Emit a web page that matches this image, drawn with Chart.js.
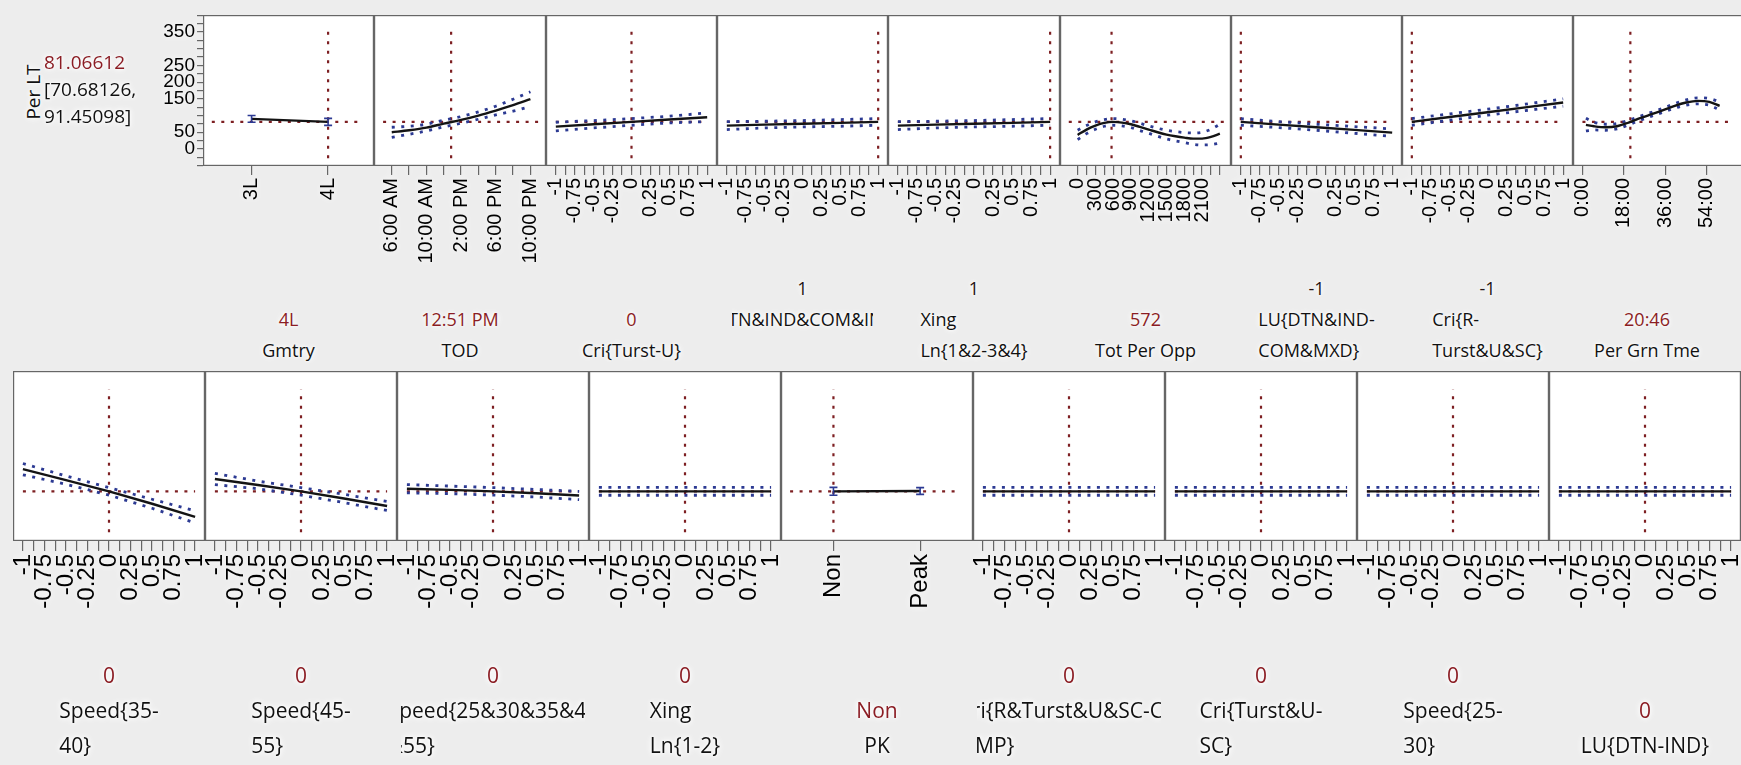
<!DOCTYPE html>
<html>
<head>
<meta charset="utf-8">
<title>Prediction Profiler - Per LT</title>
<script src="https://cdn.jsdelivr.net/npm/chart.js"></script>
<style>
  body { margin: 0; width: 1741px; height: 765px; overflow: hidden; position: relative; background: #ededed; font-family: 'Open Sans', sans-serif; }
  canvas { position: absolute; }
  .col { position: absolute; overflow: hidden; display: flex; flex-direction: column; align-items: center; justify-content: flex-end; }
  .col div, .resp div { white-space: pre; text-shadow: 0 0 3px #fff, 0 0 5px #fff, 0 0 8px #fff; }
  .names { text-align: left; color: #111; }
  .val { color: #8b1d24; }
  .dark { color: #241414; }
  .resp { position: absolute; }
</style>
</head>
<body>
<script>
// ---- response ----
const respName = 'Per LT';
const respValue = '81.06612';
const respInterval = ['[70.68126,', '91.45098]'];
const current = 81.06612;
const yLimits = [-51, 401];
const yTicks = [-50, -25, 0, 25, 50, 75, 100, 125, 150, 175, 200, 225, 250, 275, 300, 325, 350, 375, 400];
const yLabelled = [0, 50, 150, 200, 250, 350];
const crossSpan = [-28, 352];

// ---- shared coded axis (-1..1) ----
const codedX = [-1, -0.5, 0, 0.5, 1];
const codedTicks = [-1, -0.875, -0.75, -0.625, -0.5, -0.375, -0.25, -0.125, 0, 0.125, 0.25, 0.375, 0.5, 0.625, 0.75, 0.875, 1];
const codedMajor = [-1, -0.75, -0.5, -0.25, 0, 0.25, 0.5, 0.75, 1];
const codedLabels = ['-1', '-0.75', '-0.5', '-0.25', '0', '0.25', '0.5', '0.75', '1'];

// ---- top row factors ----
const topNames = [['Gmtry'], ['TOD'], ['Cri{Turst-U}'], ['LU{DTN&IND&COM&IND-R}', ' '], ['Xing', 'Ln{1&2-3&4}'],
  ['Tot Per Opp'], ['LU{DTN&IND-', 'COM&MXD}'], ['Cri{R-', 'Turst&U&SC}'], ['Per Grn Tme']];
const topValues = ['4L', '12:51 PM', '0', '1', '1', '572', '-1', '-1', '20:46'];

const gmtryLevels = ['3L', '4L'];
const gmtryPred = [90, 81.07];
const gmtryLo = [80, 70.68];
const gmtryHi = [100, 91.45];

const todHours = [6, 8, 10, 12, 14, 16, 18, 20, 22];
const todPred = [50, 56, 64, 76, 87, 100, 115, 131, 149];
const todUpper = [65, 68, 74, 86, 97, 111, 128, 149, 171];
const todLower = [35, 44, 54, 66, 77, 89, 102, 113, 127];
const todTicks = [6, 8, 10, 12, 14, 16, 18, 20, 22];
const todMajor = [6, 10, 14, 18, 22];
const todLabels = ['6:00 AM', '10:00 AM', '2:00 PM', '6:00 PM', '10:00 PM'];

const turstPred = [67, 74, 81, 88, 95];
const turstUpper = [80, 85, 91, 98, 108];
const turstLower = [54, 63, 71, 78, 82];

const luComPred = [70, 73, 75.5, 78, 81];
const luComUpper = [82, 83, 85, 88, 91];
const luComLower = [58, 63, 66, 68, 71];

const xing34Pred = [70, 73, 75.5, 78, 81];
const xing34Upper = [82, 83, 85, 88, 91];
const xing34Lower = [58, 63, 66, 68, 71];

const oppX = [0, 150, 300, 450, 600, 750, 900, 1050, 1200, 1350, 1500, 1650, 1800, 1950, 2100, 2250, 2400];
const oppPred = [42, 58, 70, 78, 81, 79, 74, 66, 58, 50, 43, 38, 34, 31, 31, 36, 46];
const oppUpper = [56, 70, 81, 88, 91, 89, 84, 77, 69, 62, 56, 52, 49, 48, 50, 59, 74];
const oppLower = [28, 46, 59, 68, 71, 69, 64, 55, 47, 38, 30, 24, 19, 14, 12, 13, 18];
const oppTicks = [0, 150, 300, 450, 600, 750, 900, 1050, 1200, 1350, 1500, 1650, 1800, 1950, 2100, 2250, 2400];
const oppMajor = [0, 300, 600, 900, 1200, 1500, 1800, 2100];
const oppLabels = ['0', '300', '600', '900', '1200', '1500', '1800', '2100'];

const luMxdPred = [81, 73, 65, 57, 49];
const luMxdUpper = [91, 82, 74, 67, 60];
const luMxdLower = [71, 64, 56, 47, 38];

const criRPred = [81, 95.5, 110, 124.5, 139];
const criRUpper = [91, 105, 119, 134, 150];
const criRLower = [71, 86, 101, 115, 128];

const grnX = [1.5, 5, 10, 15, 20, 25, 30, 35, 40, 45, 50, 55, 59.5];
const grnPred = [72, 68, 65, 68, 79, 92, 104, 116, 129, 139, 144, 141, 129];
const grnUpper = [92, 80, 74, 76, 86, 98, 110, 122, 136, 147, 153, 151, 141];
const grnLower = [54, 57, 56, 60, 72, 86, 98, 110, 122, 131, 135, 131, 117];
const grnTicks = [0, 18, 36, 54];
const grnLabels = ['0:00', '18:00', '36:00', '54:00'];

// ---- bottom row factors ----
const bottomNames = [['Speed{35-', '40}'], ['Speed{45-', '55}'], ['Speed{25&30&35&45', '&55}'], ['Xing', 'Ln{1-2}'], ['PK'],
  ['Cri{R&Turst&U&SC-CO', '   MP}'], ['Cri{Turst&U-', 'SC}'], ['Speed{25-', '30}'], ['LU{DTN-IND}']];
const bottomValues = ['0', '0', '0', '0', 'Non', '0', '0', '0', '0'];

const sp3540Pred = [140, 111, 81, 48, 13];
const sp3540Upper = [155, 122, 91, 60, 29];
const sp3540Lower = [125, 100, 71, 36, -3];

const sp4555Pred = [114, 98, 81, 62, 42];
const sp4555Upper = [129, 108, 91, 73, 54];
const sp4555Lower = [99, 88, 71, 51, 30];

const spMixPred = [88, 85, 81, 76, 70];
const spMixUpper = [99, 95, 91, 86, 81];
const spMixLower = [77, 75, 71, 66, 59];

const flatPred = [81.07, 81.07, 81.07, 81.07, 81.07];
const flatUpper = [91.45, 91.45, 91.45, 91.45, 91.45];
const flatLower = [70.68, 70.68, 70.68, 70.68, 70.68];

const pkLevels = ['Non', 'Peak'];
const pkPred = [81.07, 82];
const pkLo = [70.68, 73];
const pkHi = [91.45, 91];

// ---- styling ----
const redText = '#8b1d24';
const refColor = '#7d1f22';
const bandColor = '#2c3a93';
const frameColor = '#666666';
const tickFont = 'Liberation Sans';

const topRow = {left: 203, width: 171.3, top: 15, height: 151, axis: 100, tick: 20, tickLen: 9, labelTop: 268, labelH: 98, font: 18, lh: 31, pad: 15};
const bottomRow = {left: 12.5, width: 192.05, top: 371, height: 170, axis: 110, tick: 24, tickLen: 10, labelTop: 628, labelH: 135, font: 21, lh: 35, pad: 4};

function labeller(major, labels) {
  return v => { const i = major.indexOf(v); return i < 0 ? '' : labels[i]; };
}
const codedLabel = labeller(codedMajor, codedLabels);

function codedSpec(pred, upper, lower, at, range) {
  return {x: codedX, pred, upper, lower, at, range, ticks: codedTicks, label: codedLabel, ref: [-1, 1]};
}

const topSpecs = [
  {x: [0, 1], pred: gmtryPred, errLo: gmtryLo, errHi: gmtryHi, at: 1, range: [-0.635, 1.6], ticks: [0, 1], label: labeller([0, 1], gmtryLevels), ref: [-0.52, 1.41]},
  {x: todHours, pred: todPred, upper: todUpper, lower: todLower, at: 12.85, range: [3.95, 23.8], ticks: todTicks, label: labeller(todMajor, todLabels), ref: [5, 23], curved: true},
  codedSpec(turstPred, turstUpper, turstLower, 0, [-1.13, 1.13]),
  codedSpec(luComPred, luComUpper, luComLower, 1, [-1.13, 1.13]),
  codedSpec(xing34Pred, xing34Upper, xing34Lower, 1, [-1.13, 1.13]),
  {x: oppX, pred: oppPred, upper: oppUpper, lower: oppLower, at: 572, range: [-298, 2588], ticks: oppTicks, label: labeller(oppMajor, oppLabels), ref: [-150, 2470], curved: true},
  codedSpec(luMxdPred, luMxdUpper, luMxdLower, -1, [-1.13, 1.13]),
  codedSpec(criRPred, criRUpper, criRLower, -1, [-1.13, 1.13]),
  {x: grnX, pred: grnPred, upper: grnUpper, lower: grnLower, at: 20.77, range: [-4.1, 70.5], ticks: grnTicks, label: labeller(grnTicks, grnLabels), ref: [0, 64], curved: true}
];

const bottomSpecs = [
  codedSpec(sp3540Pred, sp3540Upper, sp3540Lower, 0, [-1.115, 1.115]),
  codedSpec(sp4555Pred, sp4555Upper, sp4555Lower, 0, [-1.115, 1.115]),
  codedSpec(spMixPred, spMixUpper, spMixLower, 0, [-1.115, 1.115]),
  codedSpec(flatPred, flatUpper, flatLower, 0, [-1.115, 1.115]),
  {x: [0, 1], pred: pkPred, errLo: pkLo, errHi: pkHi, at: 0, range: [-0.605, 1.61], ticks: [0, 1], label: labeller([0, 1], pkLevels), ref: [-0.5, 1.4]},
  codedSpec(flatPred, flatUpper, flatLower, 0, [-1.115, 1.115]),
  codedSpec(flatPred, flatUpper, flatLower, 0, [-1.115, 1.115]),
  codedSpec(flatPred, flatUpper, flatLower, 0, [-1.115, 1.115]),
  codedSpec(flatPred, flatUpper, flatLower, 0, [-1.115, 1.115])
];

// white panel, label halo, frame
const panelFrame = {
  id: 'panelFrame',
  beforeDraw(chart) {
    const {ctx, chartArea: a} = chart;
    ctx.save();
    ctx.fillStyle = '#fff';
    ctx.fillRect(a.left, a.top, a.width, a.height);
    ctx.restore();
    ctx.shadowColor = 'rgba(255,255,255,1)';
    ctx.shadowBlur = 7;
  },
  beforeDatasetsDraw(chart) {
    chart.ctx.shadowBlur = 0;
    chart.ctx.shadowColor = 'rgba(0,0,0,0)';
  },
  afterDraw(chart) {
    const {ctx, chartArea: a} = chart;
    ctx.save();
    ctx.strokeStyle = frameColor;
    ctx.lineWidth = 1.2;
    ctx.strokeRect(a.left + 0.6, a.top + 0.6, a.width - 1.2, a.height - 1.2);
    ctx.restore();
  }
};

const errorBars = {
  id: 'errorBars',
  afterDatasetsDraw(chart) {
    const ds = chart.data.datasets[0];
    if (!ds.errLo) return;
    const {ctx, scales: {x, y}} = chart;
    ctx.save();
    ctx.strokeStyle = bandColor;
    ctx.lineWidth = 1.6;
    ds.data.forEach((p, i) => {
      const px = x.getPixelForValue(p.x);
      const lo = y.getPixelForValue(ds.errLo[i]);
      const hi = y.getPixelForValue(ds.errHi[i]);
      ctx.beginPath();
      ctx.moveTo(px, lo); ctx.lineTo(px, hi);
      ctx.moveTo(px - 4, lo); ctx.lineTo(px + 4, lo);
      ctx.moveTo(px - 4, hi); ctx.lineTo(px + 4, hi);
      ctx.stroke();
    });
    ctx.restore();
  }
};

const pts = (xs, ys) => xs.map((x, i) => ({x, y: ys[i]}));

function drawPanel(spec, row, i, withY) {
  const left = Math.round(row.left + i * row.width);
  const width = Math.round(row.left + (i + 1) * row.width) - left;
  const yW = withY ? 63 : 0;
  const cv = document.createElement('canvas');
  cv.width = width + yW;
  cv.height = row.height + row.axis;
  cv.style.left = (left - yW) + 'px';
  cv.style.top = row.top + 'px';
  document.body.appendChild(cv);

  const datasets = [];
  datasets.push({data: pts(spec.x, spec.pred), errLo: spec.errLo, errHi: spec.errHi, showLine: true,
    borderColor: '#141414', borderWidth: 2.4, cubicInterpolationMode: spec.curved ? 'monotone' : 'default'});
  if (spec.upper) {
    [spec.upper, spec.lower].forEach(b => datasets.push({data: pts(spec.x, b), showLine: true,
      borderColor: bandColor, borderWidth: 2.8, borderDash: [3, 6.5], cubicInterpolationMode: spec.curved ? 'monotone' : 'default'}));
  }
  datasets.push({data: [{x: spec.ref[0], y: current}, {x: spec.ref[1], y: current}], showLine: true,
    borderColor: refColor, borderWidth: 2.2, borderDash: [3, 6.5]});
  datasets.push({data: [{x: spec.at, y: crossSpan[0]}, {x: spec.at, y: crossSpan[1]}], showLine: true,
    borderColor: refColor, borderWidth: 2.2, borderDash: [3, 6.5]});

  new Chart(cv, {
    type: 'scatter',
    data: {datasets},
    options: {
      responsive: false, animation: false, events: [],
      layout: {padding: 0},
      elements: {point: {radius: 0}},
      plugins: {legend: {display: false}, tooltip: {enabled: false}},
      scales: {
        x: {
          type: 'linear', min: spec.range[0], max: spec.range[1],
          afterBuildTicks: s => { s.ticks = spec.ticks.map(v => ({value: v})); },
          afterFit: s => { s.height = row.axis; s.paddingLeft = 0; s.paddingRight = 0; },
          ticks: {autoSkip: false, minRotation: 90, maxRotation: 90, padding: 3, color: '#000',
            font: {family: tickFont, size: row.tick}, callback: v => spec.label(v)},
          grid: {drawOnChartArea: false, drawTicks: true, tickLength: row.tickLen, color: frameColor, lineWidth: 1.2},
          border: {display: false}
        },
        y: {
          type: 'linear', min: yLimits[0], max: yLimits[1], display: withY,
          afterBuildTicks: s => { s.ticks = yTicks.map(v => ({value: v})); },
          afterFit: s => { s.width = yW; s.paddingTop = 0; s.paddingBottom = 0; },
          ticks: {autoSkip: false, padding: 2, color: '#000', font: {family: tickFont, size: 19},
            callback: v => yLabelled.includes(v) ? String(v) : ''},
          grid: {drawOnChartArea: false, tickLength: 6, color: frameColor, lineWidth: 1.2},
          border: {display: false}
        }
      }
    },
    plugins: [panelFrame, errorBars]
  });

  // factor label column
  const names = row === topRow ? topNames[i] : bottomNames[i];
  const value = row === topRow ? topValues[i] : bottomValues[i];
  const col = document.createElement('div');
  col.className = 'col';
  const colLeft = (row === topRow && i === 8) ? left : left + row.pad;
  const colW = (row === topRow && i === 8) ? 148 : width - 2 * row.pad;
  Object.assign(col.style, {left: colLeft + 'px', width: colW + 'px', top: row.labelTop + 'px', height: row.labelH + 'px',
    fontSize: row.font + 'px', lineHeight: row.lh + 'px'});
  const v = document.createElement('div');
  v.className = (row === topRow && names.length > 1) ? 'dark' : 'val';
  v.textContent = value;
  col.appendChild(v);
  const nb = document.createElement('div');
  nb.className = 'names';
  names.forEach(n => { const d = document.createElement('div'); d.textContent = n; nb.appendChild(d); });
  col.appendChild(nb);
  document.body.appendChild(col);
}

topSpecs.forEach((s, i) => drawPanel(s, topRow, i, i === 0));
bottomSpecs.forEach((s, i) => drawPanel(s, bottomRow, i, false));

// response label block
const rn = document.createElement('div');
rn.className = 'resp';
Object.assign(rn.style, {left: '-7px', top: '80px', width: '80px', textAlign: 'center', fontSize: '19px', lineHeight: '24px', transform: 'rotate(-90deg)', color: '#111'});
rn.innerHTML = '<div></div>';
rn.firstChild.textContent = respName;
document.body.appendChild(rn);

const rv = document.createElement('div');
rv.className = 'resp';
Object.assign(rv.style, {left: '44px', top: '49px', fontSize: '19px', lineHeight: '27px', color: '#111'});
[respValue].concat(respInterval).forEach((t, k) => {
  const d = document.createElement('div');
  d.textContent = t;
  if (k === 0) d.style.color = redText;
  rv.appendChild(d);
});
document.body.appendChild(rv);
</script>
</body>
</html>
